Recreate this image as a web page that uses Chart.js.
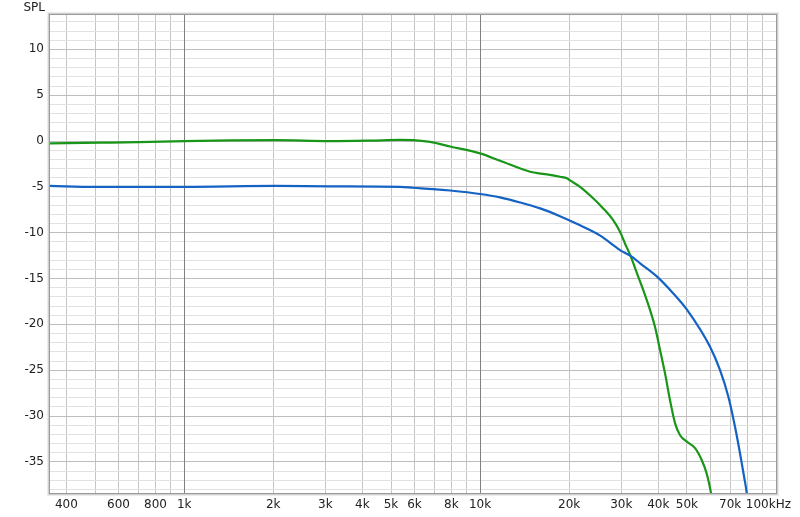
<!DOCTYPE html>
<html>
<head>
<meta charset="utf-8">
<script src="https://cdn.jsdelivr.net/npm/chart.js@4"></script>
<style>
html,body{margin:0;padding:0;background:#fff;}
canvas{display:block;}
</style>
</head>
<body>
<canvas id="c" width="800" height="517"></canvas>
<script>
// ---- data ----
const greenFreq = [352, 520, 700, 1000, 1430, 2030, 3110, 4250, 5370, 5940, 6780, 7920, 10000, 11680, 14760, 17230, 18620, 19670, 20130, 21770, 24100, 26060, 28130, 29710, 30900, 32110, 33880, 36580, 39010, 40560, 42170, 43850, 45600, 47410, 49940, 53270, 56100, 58330, 60310, 61500];
const greenDb   = [-0.25, -0.18, -0.12, 0.0, 0.08, 0.1, 0.0, 0.05, 0.12, 0.1, -0.1, -0.6, -1.35, -2.15, -3.35, -3.7, -3.9, -4.07, -4.3, -5.0, -6.25, -7.35, -8.6, -9.9, -11.2, -12.4, -14.4, -17.35, -20.3, -22.8, -25.35, -28.3, -30.8, -32.1, -32.8, -33.5, -34.8, -36.3, -38.4, -40.0];
const blueFreq  = [352, 500, 1000, 2030, 3110, 5370, 5940, 6935, 7920, 10000, 11680, 13650, 15950, 18620, 21770, 25400, 29710, 32360, 34750, 39630, 44880, 50000, 59840, 64700, 69030, 72720, 75610, 77990, 79620, 80500];
const blueDb    = [-4.9, -5.0, -5.0, -4.9, -4.95, -5.0, -5.1, -5.24, -5.4, -5.78, -6.15, -6.7, -7.35, -8.2, -9.2, -10.3, -11.9, -12.55, -13.35, -14.8, -16.6, -18.4, -22.45, -25.0, -27.9, -31.2, -34.1, -36.6, -38.4, -40.0];

// grid positions and tick labels
const xGridFreqs = [400,500,600,700,800,900,1000,2000,3000,4000,5000,6000,7000,8000,9000,10000,20000,30000,40000,50000,60000,70000,80000,90000,100000];
const xDecadeFreqs = [1000, 10000];
const xLabelFreqs = [400,600,800,1000,2000,3000,4000,5000,6000,8000,10000,20000,30000,40000,50000,70000,100000];
const xLabelTexts = ['400','600','800','1k','2k','3k','4k','5k','6k','8k','10k','20k','30k','40k','50k','70k','100kHz    '];
const yMin = -38.4, yMax = 13.75;
const yLabelStep = 5;

const toXY = (fs, ds) => fs.map((f, i) => ({x: f, y: ds[i]}));

const framePlugin = {
  id: 'frame',
  beforeDatasetsDraw(chart) {
    const {ctx, chartArea: a, scales} = chart;
    ctx.save();
    ctx.strokeStyle = '#808080';
    ctx.lineWidth = 1;
    xDecadeFreqs.forEach(f => {
      const x = Math.round(scales.x.getPixelForValue(f)) + 0.5;
      ctx.beginPath();
      ctx.moveTo(x, a.top);
      ctx.lineTo(x, a.bottom);
      ctx.stroke();
    });
    ctx.restore();
  },
  afterDraw(chart) {
    const {ctx, chartArea: a} = chart;
    ctx.save();
    const w = a.right - a.left, h = a.bottom - a.top;
    ctx.lineWidth = 1;
    ctx.strokeStyle = '#ececec';
    ctx.strokeRect(a.left - 2.5, a.top - 2.5, w + 5, h + 5);
    ctx.strokeStyle = '#cfcfcf';
    ctx.strokeRect(a.left - 1.5, a.top - 1.5, w + 3, h + 3);
    ctx.strokeStyle = '#9a9a9a';
    ctx.strokeRect(a.left - 0.5, a.top - 0.5, w + 1, h + 1);
    ctx.fillStyle = '#222';
    ctx.font = '12px "DejaVu Sans"';
    ctx.textAlign = 'right';
    ctx.textBaseline = 'middle';
    ctx.fillText('SPL', 45, 8);
    ctx.restore();
  }
};

new Chart(document.getElementById('c'), {
  type: 'line',
  data: {
    datasets: [
      {
        label: 'blue',
        data: toXY(blueFreq, blueDb),
        borderColor: '#1463c4',
        borderWidth: 2.2,
        pointRadius: 0,
        fill: false,
        cubicInterpolationMode: 'monotone'
      },
      {
        label: 'green',
        data: toXY(greenFreq, greenDb),
        borderColor: '#199619',
        borderWidth: 2.2,
        pointRadius: 0,
        fill: false,
        cubicInterpolationMode: 'monotone'
      }
    ]
  },
  options: {
    responsive: false,
    animation: false,
    events: [],
    layout: {padding: {top: 15, right: 24, left: 0, bottom: 0}},
    plugins: {legend: {display: false}, tooltip: {enabled: false}},
    scales: {
      x: {
        type: 'logarithmic',
        min: 352,
        max: 100000,
        afterBuildTicks(scale) {
          scale.ticks = xGridFreqs.map(v => ({value: v}));
        },
        afterFit(scale) {
          scale.height = 24;
          scale.paddingLeft = 0;
          scale.paddingRight = 0;
        },
        grid: {
          drawTicks: false,
          color: '#c4c4c4',
          lineWidth: 1
        },
        border: {display: false},
        ticks: {
          autoSkip: false,
          maxRotation: 0,
          minRotation: 0,
          padding: 5,
          color: '#222',
          font: {family: '"DejaVu Sans"', size: 12},
          callback(value) {
            const i = xLabelFreqs.indexOf(value);
            return i >= 0 ? xLabelTexts[i] : '';
          }
        }
      },
      y: {
        type: 'linear',
        min: yMin,
        max: yMax,
        afterBuildTicks(scale) {
          const t = [];
          for (let v = Math.ceil(yMin); v <= Math.floor(yMax); v++) t.push({value: v});
          scale.ticks = t;
        },
        afterFit(scale) {
          scale.width = 50;
          scale.paddingTop = 0;
          scale.paddingBottom = 0;
        },
        grid: {
          drawTicks: false,
          color: ctx => (ctx.tick && ctx.tick.value % yLabelStep === 0) ? '#bdbdbd' : '#e2e2e2',
          lineWidth: 1
        },
        border: {display: false},
        ticks: {
          autoSkip: false,
          padding: 6,
          color: '#222',
          font: {family: '"DejaVu Sans"', size: 12},
          callback(value) {
            return value % yLabelStep === 0 ? String(value) : '';
          }
        }
      }
    }
  },
  plugins: [framePlugin]
});
</script>
</body>
</html>
